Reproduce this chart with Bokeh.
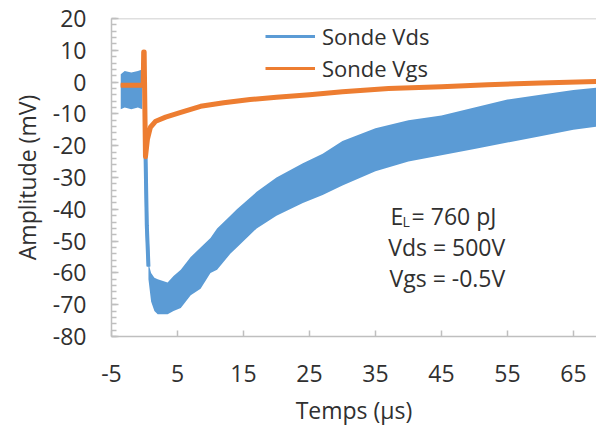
from bokeh.plotting import figure
from bokeh.models import Range1d, FixedTicker, Span, Label, Legend, LegendItem
from bokeh.embed import file_html
from bokeh.resources import INLINE

# ---------------- data ----------------
x_ticks = [-5, 5, 15, 25, 35, 45, 55, 65]
y_ticks = [-80, -70, -60, -50, -40, -30, -20, -10, 0, 10, 20]
y_minor = list(range(-80, 21, 2))

# Sonde Vgs (orange)
vgs_t = [-3.6, -0.2, -0.12, -0.05, 0.15, 0.45, 0.9, 1.7, 3.2, 5.5, 8.5, 12, 16, 20, 25, 30, 37, 45, 52, 60, 68.6]
vgs_v = [-1.0, -1.0, 9.5, 9.5, -23.5, -17.9, -14.2, -12.3, -11.0, -9.5, -7.6, -6.5, -5.5, -4.8, -4.0, -3.0, -2.0, -1.5, -0.8, -0.3, 0.2]

# Sonde Vds (blue) : pre-trigger noise band
vds_pre_t = [-3.6, -3.0, -2.0, -1.0, -0.35]
vds_pre_hi = [2.5, 3.5, 3.0, 3.5, 4.0]
vds_pre_lo = [-8.5, -8.0, -8.5, -8.0, -8.5]

# Sonde Vds : falling edge
vds_drop_t = [0.15, 0.35, 0.6]
vds_drop_v = [-22.0, -45.0, -58.0]

# Sonde Vds : main noisy band (upper / lower envelope)
vds_t = [0.6, 1.0, 1.5, 2.0, 3.5, 4.4, 5.5, 7, 8.5, 10, 11, 13, 14, 17, 20, 24, 27, 30, 35, 40, 45, 50, 55, 60, 65, 68.6]
vds_hi = [-57, -60, -61.5, -62, -63, -61, -59, -55, -52, -49, -46, -42, -40, -34.5, -30, -25.5, -22.5, -18.5, -14.5, -12, -10.5, -8, -5.5, -4, -2.5, -1.7]
vds_lo = [-62, -69, -72, -73, -73, -72, -71, -67, -65, -60, -59, -54, -52, -46, -42, -38, -35.5, -32.5, -28, -25, -23, -21, -19, -17, -15, -14]

series_names = ["Sonde Vds", "Sonde Vgs"]
note_lines = ["Vds = 500V", "Vgs = -0.5V"]

# ---------------- style ----------------
FONT = "Open Sans"
FS = "23px"
TXT = "#303030"
AX = "#BFBFBF"
BLUE = "#5B9BD5"
ORANGE = "#ED7D31"

p = figure(width=596, height=428, output_backend="svg", toolbar_location=None,
           x_range=Range1d(-5, 68.5), y_range=Range1d(-80, 20),
           min_border_left=111, min_border_right=0, min_border_top=18, min_border_bottom=88)
p.outline_line_color = None
p.grid.visible = False
p.background_fill_color = "white"
p.border_fill_color = "white"

# legend proxies (hidden beneath the real marks)
leg_b = p.line(vds_drop_t, vds_drop_v, line_color=BLUE, line_width=3)
leg_o = p.line(vgs_t, vgs_v, line_color=ORANGE, line_width=3)

# data marks
p.varea(x=vds_pre_t, y1=vds_pre_lo, y2=vds_pre_hi, fill_color=BLUE)
p.varea(x=vds_t, y1=vds_lo, y2=vds_hi, fill_color=BLUE)
p.line(vds_drop_t, vds_drop_v, line_color=BLUE, line_width=4)
p.line(vgs_t, vgs_v, line_color=ORANGE, line_width=5, line_join="round")

legend = Legend(items=[LegendItem(label=series_names[0], renderers=[leg_b]),
                       LegendItem(label=series_names[1], renderers=[leg_o])],
                location=(154, 252), padding=0, margin=0, spacing=0,
                glyph_width=50, glyph_height=32, label_height=32, label_standoff=7,
                border_line_color=None, background_fill_alpha=0,
                label_text_font=FONT, label_text_font_size="22px", label_text_color=TXT)
p.add_layout(legend)

# top border
p.add_layout(Span(location=20, dimension="width", line_color=AX, line_width=1.5))

# axes
xa = p.xaxis[0]
xa.ticker = FixedTicker(ticks=x_ticks, minor_ticks=[])
xa.major_label_overrides = {t: str(t) for t in x_ticks}
xa.major_tick_in = 6
xa.major_tick_out = 0
xa.minor_tick_line_color = None
xa.axis_line_color = AX
xa.axis_line_width = 1.5
xa.major_tick_line_color = AX
xa.major_tick_line_width = 1.5
xa.major_label_text_font = FONT
xa.major_label_text_font_size = FS
xa.major_label_text_color = TXT
xa.major_label_standoff = 28
xa.axis_label = "Temps (µs)"
xa.axis_label_text_font = FONT
xa.axis_label_text_font_size = FS
xa.axis_label_text_font_style = "normal"
xa.axis_label_text_color = TXT
xa.axis_label_standoff = 9

ya = p.yaxis[0]
ya.ticker = FixedTicker(ticks=y_ticks, minor_ticks=y_minor)
ya.major_label_overrides = {t: str(t) for t in y_ticks}
ya.major_tick_in = 7
ya.major_tick_out = 0
ya.minor_tick_in = 5
ya.minor_tick_out = 0
ya.axis_line_color = AX
ya.axis_line_width = 1.5
ya.major_tick_line_color = AX
ya.minor_tick_line_color = AX
ya.major_tick_line_width = 1.5
ya.minor_tick_line_width = 1.5
ya.major_label_text_font = FONT
ya.major_label_text_font_size = FS
ya.major_label_text_color = TXT
ya.major_label_standoff = 25
ya.axis_label = "Amplitude (mV)"
ya.axis_label_text_font = FONT
ya.axis_label_text_font_size = FS
ya.axis_label_text_font_style = "normal"
ya.axis_label_text_color = TXT
ya.axis_label_standoff = 7

# annotation
common = dict(text_font=FONT, text_color=TXT, text_baseline="middle")
p.add_layout(Label(x=37.3, y=-42.1, text="E", text_align="left", text_font_size=FS, **common))
p.add_layout(Label(x=37.3, y=-42.1, x_offset=12, y_offset=-6, text="L", text_align="left",
                   text_font_size="14px", **common))
p.add_layout(Label(x=37.3, y=-42.1, x_offset=21, text="= 760 pJ", text_align="left",
                   text_font_size=FS, **common))
p.add_layout(Label(x=45.8, y=-52.0, text=note_lines[0], text_align="center", text_font_size=FS, **common))
p.add_layout(Label(x=45.9, y=-61.7, text=note_lines[1], text_align="center", text_font_size=FS, **common))

open("out.html", "w").write(file_html(p, INLINE))
